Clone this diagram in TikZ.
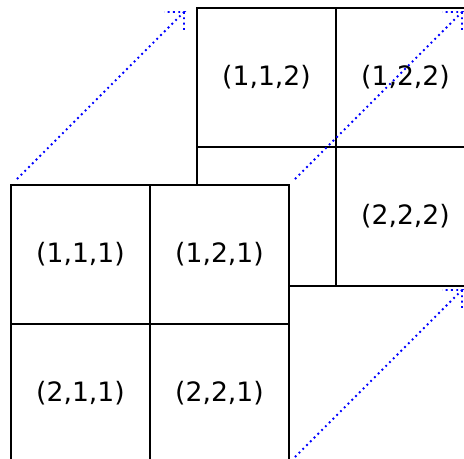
\documentclass[tikz,border=0pt]{standalone}
\usepackage{fontspec}
\setsansfont{DejaVu Sans}
\usetikzlibrary{positioning, calc}

\begin{document}
\begin{tikzpicture}[
      x=0.75pt, y=-0.75pt,
      node distance=0pt,
      cell/.style={rectangle, draw, line width=1.2pt, fill=white, outer sep=0pt, inner sep=0pt, minimum size=104.25pt, font=\sffamily\fontsize{20}{24}\selectfont},
      link/.style={draw=blue, line width=1.4pt, dash pattern=on 1.4pt off 2.6pt, to path={-- (\tikztotarget) -- +(-20,0) (\tikztotarget) -- +(0,20)}}
    ]
    \useasboundingbox (0,0) rectangle (464,458);

    \node[cell] (b11) at (266.5,77.5) {(1,1,2)};
    \node[cell, right=of b11] (b12) {(1,2,2)};
    \node[cell, below=of b11] (b21) {};
    \node[cell, below=of b12] (b22) {(2,2,2)};

    \node[cell] (f11) at (80.5,254.5) {(1,1,1)};
    \node[cell, right=of f11] (f12) {(1,2,1)};
    \node[cell, below=of f11] (f21) {(2,1,1)};
    \node[cell, below=of f12] (f22) {(2,2,1)};

    \coordinate (s1) at ($(f11.north west)+(6,-6)$);
    \coordinate (t1) at ($(b11.north west)+(-13,4)$);
    \coordinate (s2) at ($(f12.north east)+(6,-6)$);
    \coordinate (t2) at ($(b12.north east)+(-13,4)$);
    \coordinate (s3) at ($(f22.south east)+(6,-6)$);
    \coordinate (t3) at ($(b22.south east)+(-13,4)$);

    \draw[link] (s1) to (t1);
    \draw[link] (s2) to (t2);
    \draw[link] (s3) to (t3);
  \end{tikzpicture}
\end{document}
